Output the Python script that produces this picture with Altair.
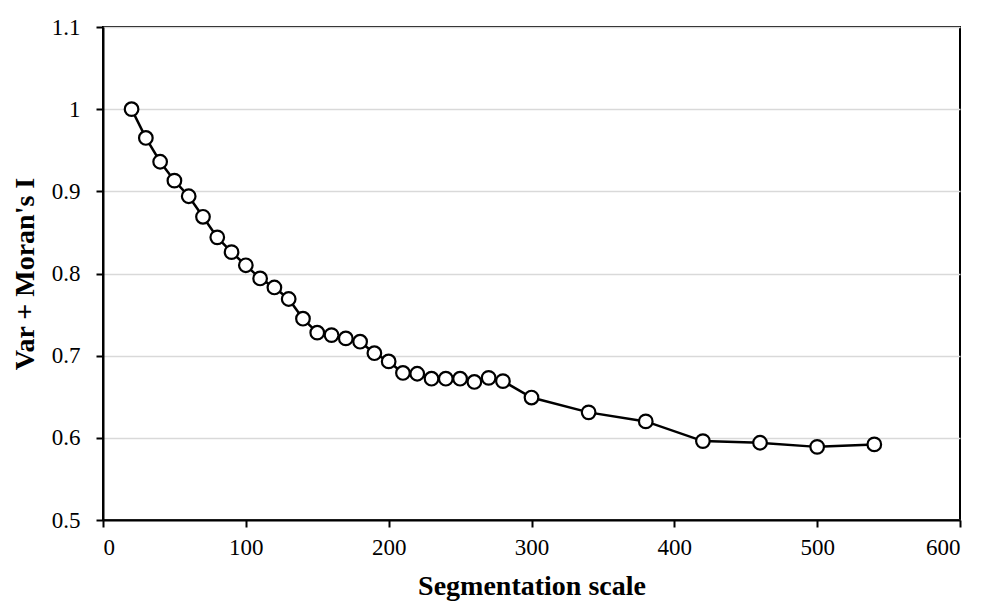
import altair as alt
import pandas as pd

scale = [20, 30, 40, 50, 60, 70, 80, 90, 100, 110, 120, 130, 140, 150, 160,
         170, 180, 190, 200, 210, 220, 230, 240, 250, 260, 270, 280,
         300, 340, 380, 420, 460, 500, 540]
value = [1.000, 0.965, 0.936, 0.913, 0.894, 0.869, 0.844, 0.826, 0.810, 0.794,
         0.783, 0.769, 0.745, 0.728, 0.725, 0.721, 0.717, 0.703, 0.693, 0.679,
         0.678, 0.672, 0.672, 0.672, 0.668, 0.673, 0.669,
         0.649, 0.631, 0.620, 0.596, 0.594, 0.589, 0.592]

x_ticks = [0, 100, 200, 300, 400, 500, 600]
y_ticks = [0.5, 0.6, 0.7, 0.8, 0.9, 1.0, 1.1]

df = pd.DataFrame({"scale": scale, "value": value})

FONT = "Liberation Serif"

x = alt.X("scale:Q", scale=alt.Scale(domain=[0, 600], nice=False),
          axis=alt.Axis(title="Segmentation scale", values=x_ticks, grid=False,
                        titleY=74, titleBaseline="alphabetic"))
y = alt.Y("value:Q", scale=alt.Scale(domain=[0.5, 1.1], nice=False, zero=False),
          axis=alt.Axis(title="Var + Moran's I", values=y_ticks, grid=True,
                        labelExpr="datum.value == 1 ? '1' : format(datum.value, '.1f')",
                        titleX=-70, titleBaseline="alphabetic"))

line = alt.Chart(df).mark_line(color="black", strokeWidth=2.5).encode(x=x, y=y)
pts = alt.Chart(df).mark_point(shape="circle", filled=True, fill="white",
                               stroke="black", strokeWidth=2.2, size=185,
                               opacity=1).encode(x=x, y=y)

chart = (line + pts).properties(
    width=857, height=493,
    autosize=alt.AutoSizeParams(type="none"),
    padding={"left": 95, "top": 19, "right": 13, "bottom": 82},
).configure_view(stroke="black", strokeWidth=2).configure_axis(
    labelFont=FONT, titleFont=FONT, labelFontSize=23, titleFontSize=28,
    titleFontWeight="bold", labelColor="black", titleColor="black",
    domainColor="black", domainWidth=2, tickColor="black", tickWidth=2,
    tickSize=7, gridColor="#d9d9d9", gridWidth=1.5,
).configure_axisY(labelPadding=16).configure_axisX(labelPadding=9)

chart.save("out.html", embed_options={"renderer": "svg", "actions": False})
